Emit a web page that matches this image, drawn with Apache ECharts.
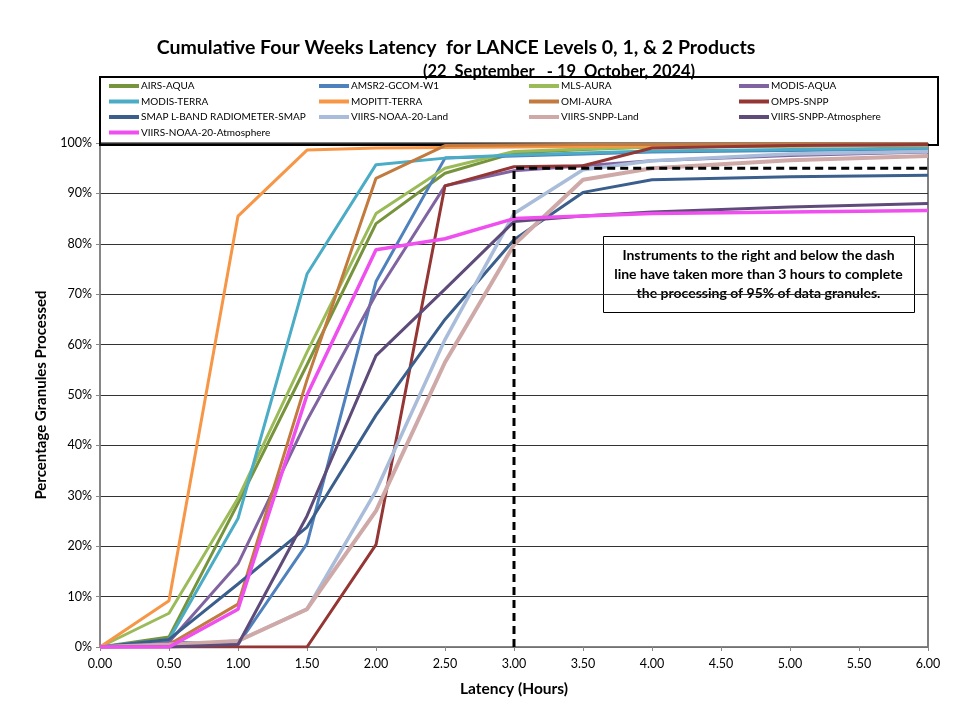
<!DOCTYPE html>
<html>
<head>
<meta charset="utf-8">
<title>LANCE latency</title>
<script src="https://cdn.jsdelivr.net/npm/echarts@6/dist/echarts.min.js"></script>
<style>
  html, body { margin: 0; padding: 0; background: #fff; }
  #chart { width: 972px; height: 714px; }
</style>
</head>
<body>
<div id="chart"></div>
<script>
// latency in hours (x positions of the data points)
const hours = [0, 0.5, 1, 1.5, 2, 2.5, 3, 3.5, 4, 5, 6];
const xTicks = ["0.00", "0.50", "1.00", "1.50", "2.00", "2.50", "3.00", "3.50", "4.00", "4.50", "5.00", "5.50", "6.00"];

// cumulative % of granules processed
const airsAqua = [0, 2, 28.5, 56, 84, 94, 98, 98.7, 99.2, 99.4, 99.6];
const amsr2 = [0, 1, 0.5, 20.5, 72.5, 97, 97.4, 97.8, 98.2, 98.5, 98.8];
const mlsAura = [0, 6.7, 29.5, 58.5, 86, 95, 98.3, 98.8, 99.2, 99.4, 99.6];
const modisAqua = [0, 1, 16.5, 45, 70, 91.5, 94.5, 95.5, 96.5, 97.5, 98.2];
const modisTerra = [0, 1.5, 25.5, 74, 95.7, 97, 97.6, 98, 98.4, 98.7, 99];
const mopittTerra = [0, 9.2, 85.5, 98.6, 99, 99.1, 99.2, 99.3, 99.4, 99.5, 99.6];
const omiAura = [0, 0.5, 8.5, 53, 93, 99.5, 99.6, 99.7, 99.7, 99.8, 99.8];
const ompsSnpp = [0, 0, 0, 0, 20.3, 91.5, 95.3, 95.5, 99, 99.5, 99.7];
const smap = [0, 1.5, 12.5, 23.8, 46, 65, 80.8, 90.2, 92.7, 93.3, 93.6];
const viirsN20Land = [0, 0.3, 1.2, 7.5, 31, 61, 86, 94.7, 96.5, 97.8, 98.3];
const viirsSnppLand = [0, 0.5, 1.2, 7.5, 27, 56.5, 79.8, 92.7, 95, 96.6, 97.4];
const viirsSnppAtmos = [0, 0, 0.5, 26, 57.8, 71, 84.4, 85.5, 86.3, 87.3, 88];
const viirsN20Atmos = [0, 0, 7.5, 50, 78.8, 81, 85, 85.5, 86, 86.3, 86.6];

// 3 hour / 95% threshold
const dashX = [3, 3, 6];
const dashY = [0, 95, 95];

const names = ["AIRS-AQUA", "AMSR2-GCOM-W1", "MLS-AURA", "MODIS-AQUA",
  "MODIS-TERRA", "MOPITT-TERRA", "OMI-AURA", "OMPS-SNPP",
  "SMAP L-BAND RADIOMETER-SMAP", "VIIRS-NOAA-20-Land", "VIIRS-SNPP-Land", "VIIRS-SNPP-Atmosphere",
  "VIIRS-NOAA-20-Atmosphere"];
const values = [airsAqua, amsr2, mlsAura, modisAqua, modisTerra, mopittTerra, omiAura,
  ompsSnpp, smap, viirsN20Land, viirsSnppLand, viirsSnppAtmos, viirsN20Atmos];
const colors = ["#77933C", "#4F81BD", "#9BBB59", "#8064A2", "#4BACC6", "#F79646", "#C27A3E",
  "#943634", "#3B5F8C", "#A9BCD9", "#CFA9A8", "#5F4B7A", "#EE4FEE"];
const widths = [3, 3, 3, 3, 3, 3, 3, 3, 3, 3.5, 4, 3, 3.5];

const font = "Lato, 'DejaVu Sans', sans-serif";

var chart = echarts.init(document.getElementById("chart"));

var series = names.map(function (name, i) {
  return {
    name: name,
    type: "line",
    data: hours.map(function (h, j) { return [h, values[i][j]]; }),
    symbol: "none",
    lineStyle: { width: widths[i], color: colors[i] },
    itemStyle: { color: colors[i] },
    z: 3 + i * 0.01,
  };
});
series.push({
  name: "threshold",
  type: "line",
  data: dashX.map(function (x, j) { return [x, dashY[j]]; }),
  symbol: "none",
  lineStyle: { width: 3, color: "#000", type: [8, 5] },
  z: 10,
  silent: true,
});

// legend in 4 columns, one vertical legend per column
var legends = [0, 1, 2, 3].map(function (c) {
  return {
    orient: "vertical",
    left: 104 + c * 210,
    top: 76,
    itemGap: 5.5,
    itemWidth: 30,
    itemHeight: 4,
    icon: "rect",
    data: names.filter(function (n, i) { return i % 4 === c; }),
    textStyle: { fontFamily: font, fontSize: 10, color: "#000", padding: [0, 0, 0, -3] },
    selectedMode: false,
  };
});

var option = {
  animation: false,
  backgroundColor: "#fff",
  color: colors,
  title: [
    {
      text: "Cumulative Four Weeks Latency  for LANCE Levels 0, 1, & 2 Products",
      left: 451, top: 33, textAlign: "center",
      textStyle: { fontFamily: font, fontSize: 19.5, fontWeight: "bold", color: "#000" },
    },
    {
      text: "(22  September   - 19  October, 2024)",
      left: 554, top: 58, textAlign: "center",
      textStyle: { fontFamily: font, fontSize: 16.5, fontWeight: "bold", color: "#000" },
    },
  ],
  legend: legends,
  grid: {
    left: 100, right: 44, top: 143, bottom: 67,
    show: true, borderColor: "#000", borderWidth: 1,
  },
  xAxis: {
    type: "value",
    min: 0, max: 6, interval: 0.5,
    name: "Latency (Hours)",
    nameLocation: "middle",
    nameGap: 34,
    nameTextStyle: { fontFamily: font, fontSize: 15.5, fontWeight: "bold", color: "#000" },
    axisLine: { lineStyle: { color: "#888", width: 1.5 } },
    axisTick: { show: true, length: 4, lineStyle: { color: "#888" } },
    axisLabel: {
      fontFamily: font, fontSize: 12.5, color: "#000", margin: 10,
      formatter: function (v) { return xTicks[Math.round(v * 2)]; },
    },
    splitLine: { show: false },
  },
  yAxis: {
    type: "value",
    min: 0, max: 100, interval: 10,
    name: "Percentage Granules Processed",
    nameLocation: "middle",
    nameGap: 51,
    nameTextStyle: { fontFamily: font, fontSize: 15, fontWeight: "bold", color: "#000" },
    axisLine: { show: true, lineStyle: { color: "#888", width: 1.5 } },
    axisTick: { show: true, length: 4, lineStyle: { color: "#888" } },
    axisLabel: { fontFamily: font, fontSize: 12.5, color: "#000", formatter: "{value}%" },
    splitLine: { lineStyle: { color: "#333", width: 1.2 } },
  },
  graphic: [
    {
      type: "rect",
      shape: { x: 100, y: 77, width: 838, height: 68 },
      style: { fill: "none", stroke: "#000", lineWidth: 2 },
      z: 1,
    },
    {
      type: "group",
      left: 603, top: 236,
      z: 20,
      children: [
        {
          type: "rect",
          shape: { x: 0, y: 0, width: 311, height: 76 },
          style: { fill: "#fff", stroke: "#000", lineWidth: 1 },
        },
        {
          type: "text",
          x: 155, y: 38,
          style: {
            text: "Instruments to the right and below the dash\nline have taken more than 3 hours to complete\nthe processing of 95% of data granules.",
            font: "bold 14px " + font,
            fill: "#000",
            align: "center",
            verticalAlign: "middle",
            lineHeight: 19,
          },
        },
      ],
    },
  ],
  series: series,
};
chart.setOption(option);
</script>
</body>
</html>
